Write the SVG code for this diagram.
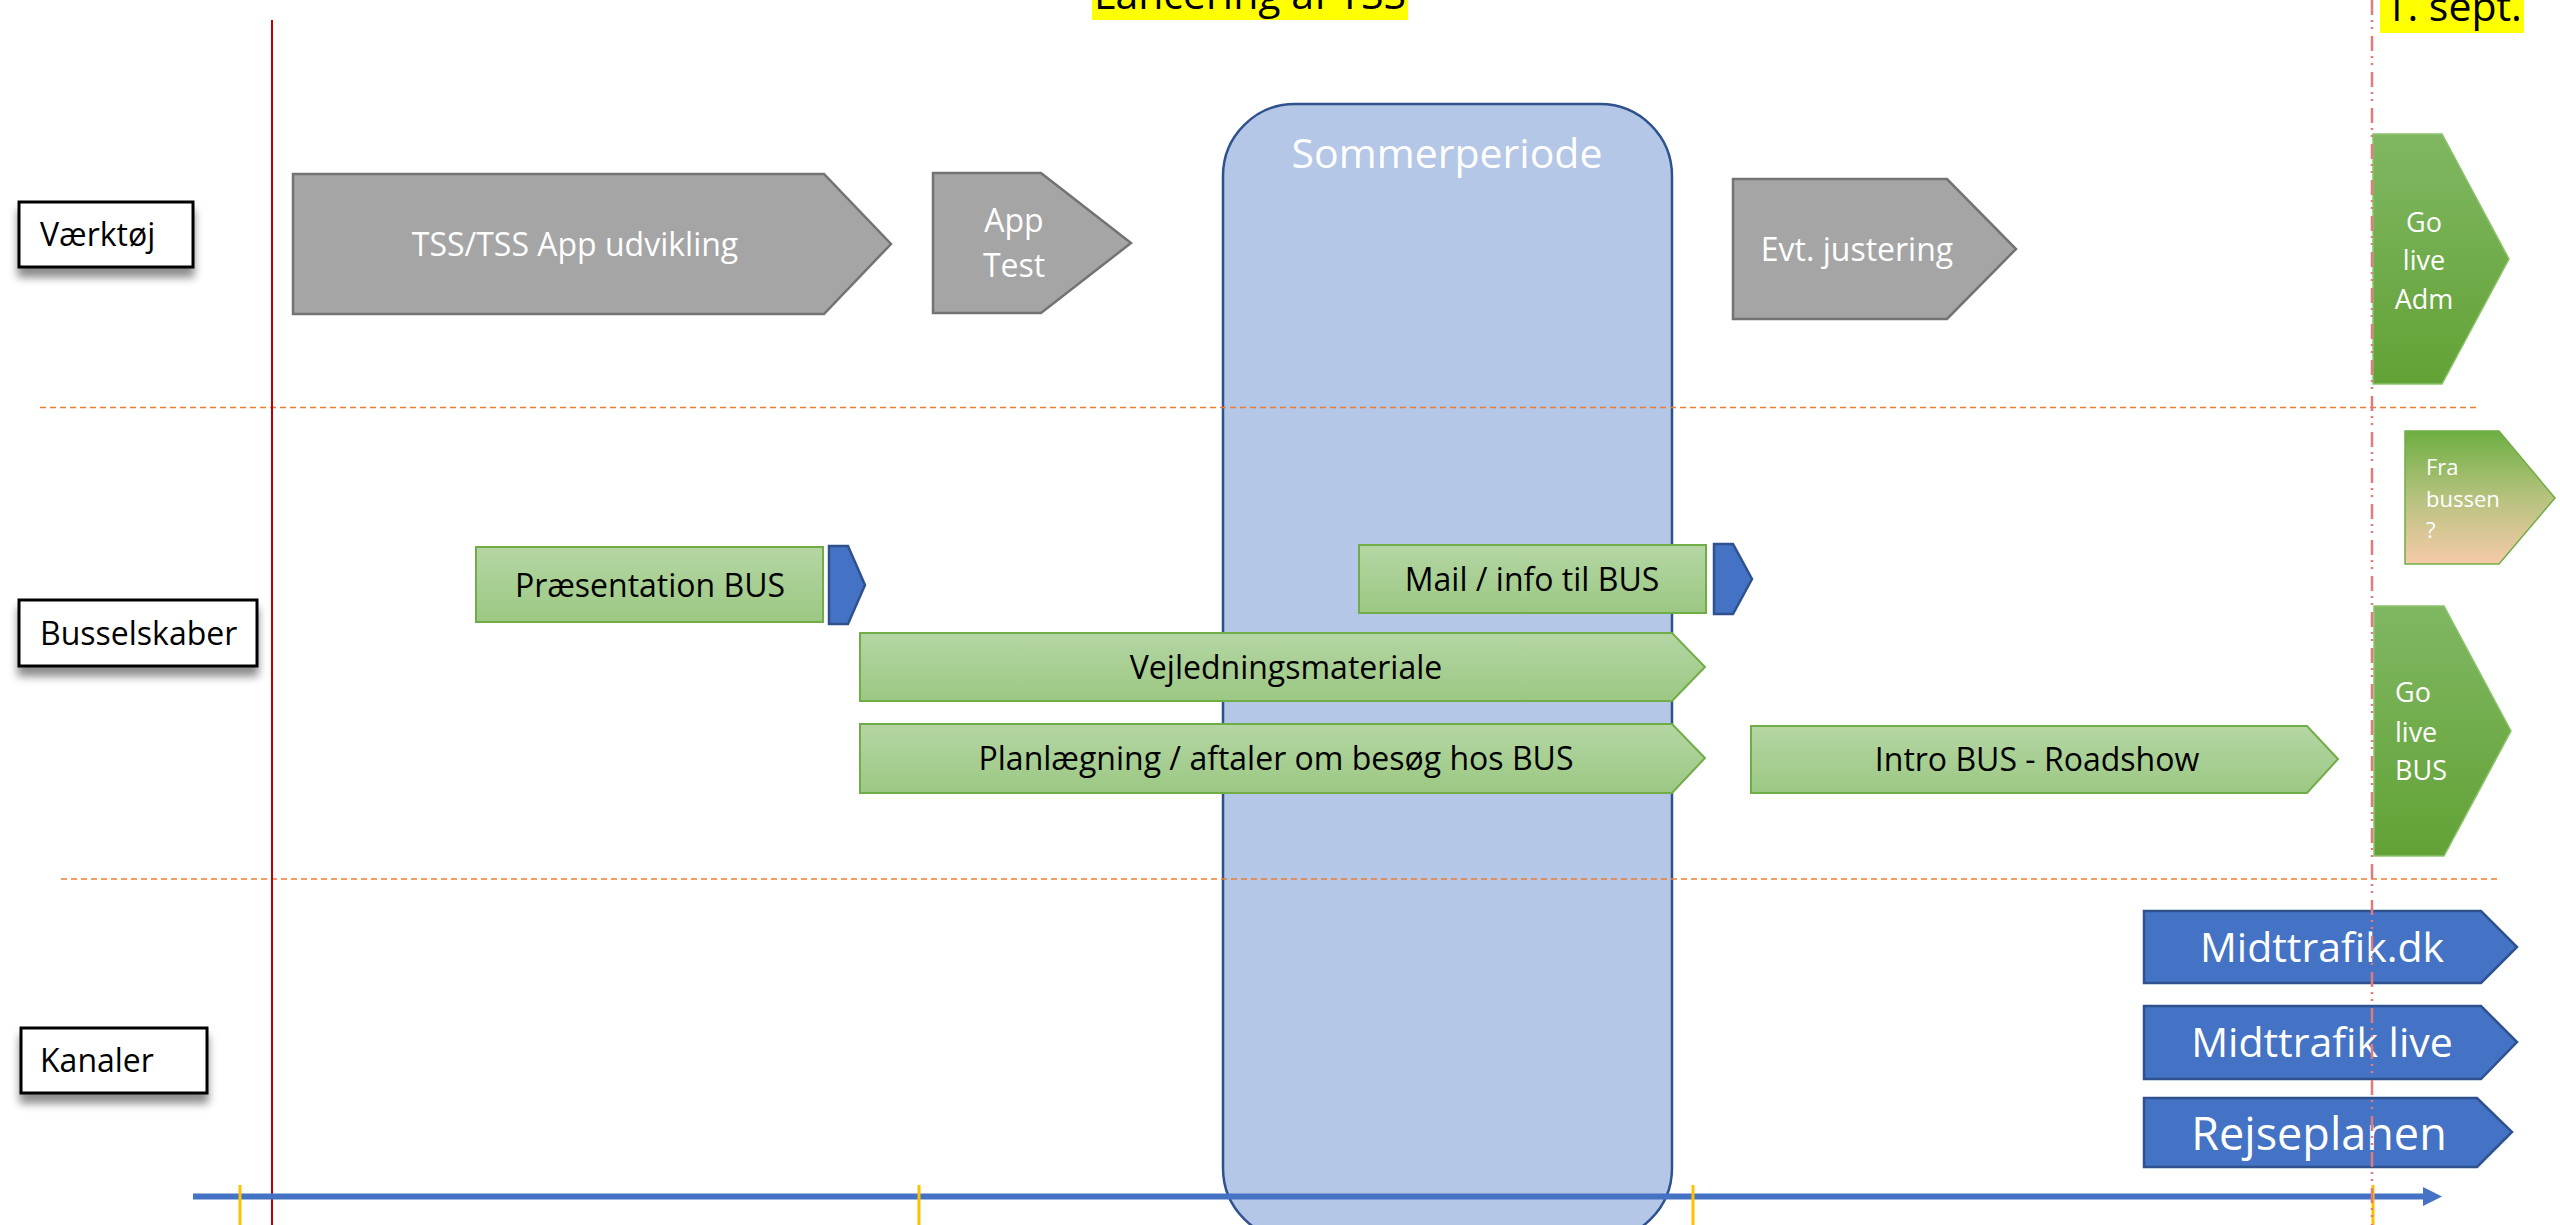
<svg xmlns="http://www.w3.org/2000/svg" width="2560" height="1225" viewBox="0 0 2560 1225">
<defs>
<style>
text{font-family:"Open Sans","Noto Sans","Liberation Sans",sans-serif}
.lbl{fill:#fff;stroke:#000;stroke-width:3}
.lt{font-size:32px;fill:#000}
.gray{fill:#a5a5a5;stroke:#737373;stroke-width:2.5}
.wt{fill:#fff;text-anchor:middle}
.bus{fill:url(#gBus);stroke:#70ad47;stroke-width:2}
.bt{font-size:32px;fill:#000;text-anchor:middle}
.blue{fill:#4472c4;stroke:#2f528f;stroke-width:2.5}
.golive{fill:url(#gLive);stroke:#8cc46c;stroke-width:1.5}
.hl{fill:#ffff00}
.ht{font-size:41px;fill:#000}
.odash{stroke:#ed7d31;stroke-width:1.5;stroke-dasharray:6 4;fill:none}
.tick{stroke:#ffc000;stroke-width:3}
</style>
<linearGradient id="gBus" x1="0" y1="0" x2="0" y2="1">
<stop offset="0" stop-color="#b5d6a4"/>
<stop offset="1" stop-color="#9bc883"/>
</linearGradient>
<linearGradient id="gLive" x1="0" y1="0" x2="0" y2="1">
<stop offset="0" stop-color="#80b762"/>
<stop offset="1" stop-color="#62a236"/>
</linearGradient>
<linearGradient id="gFra" x1="0" y1="0" x2="0" y2="1">
<stop offset="0" stop-color="#6daf42"/>
<stop offset="0.5" stop-color="#b6c27e"/>
<stop offset="1" stop-color="#f6caa9"/>
</linearGradient>
<filter id="shadow" x="-20%" y="-30%" width="140%" height="180%">
<feDropShadow dx="0" dy="9" stdDeviation="4" flood-color="#000" flood-opacity="0.45"/>
</filter>
</defs>

<rect width="2560" height="1225" fill="#fff"/>

<!-- Summer period band -->
<g id="sommerperiode">
<rect x="1223" y="104" width="449" height="1136" rx="72" ry="72" fill="#b4c7e7" stroke="#2f528f" stroke-width="2.5"/>
<text x="1447" y="168" class="wt" font-size="41">Sommerperiode</text>
</g>

<!-- Guides -->
<g id="guides">
<line x1="40" y1="407.5" x2="2478" y2="407.5" class="odash"/>
<line x1="61" y1="879" x2="2500" y2="879" class="odash"/>
<line x1="272" y1="20" x2="272" y2="1225" stroke="#c00000" stroke-width="2"/>
</g>

<!-- Title highlights -->
<g id="title">
<rect x="1092" y="-10" width="316" height="30" class="hl"/>
<text x="1250" y="9" class="ht" text-anchor="middle">Lancering af TSS</text>
</g>
<g id="sept">
<rect x="2380" y="-10" width="144" height="43" class="hl"/>
<text x="2384" y="21" class="ht">1. sept.</text>
</g>

<!-- Row labels -->
<g id="lbl-vaerktoej">
<rect x="19" y="202" width="174" height="65" class="lbl" filter="url(#shadow)"/>
<text x="40" y="246" class="lt">Værktøj</text>
</g>
<g id="lbl-busselskaber">
<rect x="19" y="600" width="238" height="66" class="lbl" filter="url(#shadow)"/>
<text x="40" y="645" class="lt">Busselskaber</text>
</g>
<g id="lbl-kanaler">
<rect x="21" y="1028" width="186" height="65" class="lbl" filter="url(#shadow)"/>
<text x="40" y="1072" class="lt">Kanaler</text>
</g>

<!-- Værktøj row -->
<g id="tss-udvikling">
<polygon points="293,174 824,174 891,244 824,314 293,314" class="gray"/>
<text x="575" y="256" class="wt" font-size="32">TSS/TSS App udvikling</text>
</g>
<g id="app-test">
<polygon points="933,173 1041,173 1131,243 1041,313 933,313" class="gray"/>
<text x="1014" y="232" class="wt" font-size="32">App</text>
<text x="1014" y="277" class="wt" font-size="32">Test</text>
</g>
<g id="evt-justering">
<polygon points="1733,179 1947,179 2016,249 1947,319 1733,319" class="gray"/>
<text x="1857" y="261" class="wt" font-size="32">Evt. justering</text>
</g>
<g id="go-live-adm">
<polygon points="2373,134 2442,134 2509,259 2442,384 2373,384" class="golive"/>
<text x="2424" y="232" class="wt" font-size="27">Go</text>
<text x="2424" y="270" class="wt" font-size="27">live</text>
<text x="2424" y="309" class="wt" font-size="27">Adm</text>
</g>

<!-- Busselskaber row -->
<g id="praesentation-bus">
<rect x="476" y="547" width="347" height="75" class="bus"/>
<text x="650" y="597" class="bt">Præsentation BUS</text>
</g>
<g id="marker-1">
<polygon points="829,546 848,546 865,585 848,624 829,624" class="blue"/>
</g>
<g id="mail-info">
<rect x="1359" y="545" width="347" height="68" class="bus"/>
<text x="1532" y="591" class="bt">Mail / info til BUS</text>
</g>
<g id="marker-2">
<polygon points="1714,544 1733,544 1752,579 1733,614 1714,614" class="blue"/>
</g>
<g id="vejledningsmateriale">
<polygon points="860,633 1672,633 1705,667 1672,701 860,701" class="bus"/>
<text x="1286" y="679" class="bt">Vejledningsmateriale</text>
</g>
<g id="planlaegning">
<polygon points="860,724 1672,724 1705,758 1672,793 860,793" class="bus"/>
<text x="1276" y="770" class="bt">Planlægning / aftaler om besøg hos BUS</text>
</g>
<g id="intro-bus">
<polygon points="1751,726 2307,726 2338,759 2307,793 1751,793" class="bus"/>
<text x="2037" y="771" class="bt">Intro BUS - Roadshow</text>
</g>
<g id="fra-bussen">
<polygon points="2405,431 2499,431 2555,498 2499,564 2405,564" fill="url(#gFra)" stroke="#70ad47" stroke-width="1.5"/>
<text x="2426" y="475" fill="#fff" font-size="22">Fra</text>
<text x="2426" y="507" fill="#fff" font-size="22">bussen</text>
<text x="2426" y="538" fill="#fff" font-size="22">?</text>
</g>
<g id="go-live-bus">
<polygon points="2374,606 2444,606 2511,731 2444,856 2374,856" class="golive"/>
<text x="2395" y="702" fill="#fff" font-size="27">Go</text>
<text x="2395" y="742" fill="#fff" font-size="27">live</text>
<text x="2395" y="780" fill="#fff" font-size="27">BUS</text>
</g>

<!-- Kanaler row -->
<g id="midttrafik-dk">
<polygon points="2144,911 2481,911 2517,947 2481,983 2144,983" class="blue"/>
<text x="2322" y="962" class="wt" font-size="41">Midttrafik.dk</text>
</g>
<g id="midttrafik-live">
<polygon points="2144,1006 2481,1006 2517,1042 2481,1079 2144,1079" class="blue"/>
<text x="2322" y="1057" class="wt" font-size="41">Midttrafik live</text>
</g>
<g id="rejseplanen">
<polygon points="2144,1098 2477,1098 2512,1132 2477,1167 2144,1167" class="blue"/>
<text x="2319" y="1150" class="wt" font-size="45">Rejseplanen</text>
</g>

<!-- Timeline axis -->
<g id="connectors">
<line x1="193" y1="1196.5" x2="2425" y2="1196.5" stroke="#4472c4" stroke-width="6"/>
<polygon points="2423,1187 2442,1196.5 2423,1206" fill="#4472c4"/>
<line x1="240" y1="1185" x2="240" y2="1225" class="tick"/>
<line x1="919" y1="1185" x2="919" y2="1225" class="tick"/>
<line x1="1693" y1="1185" x2="1693" y2="1225" class="tick"/>
<line x1="2373" y1="1185" x2="2373" y2="1225" class="tick"/>
</g>

<!-- 1. sept. marker line -->
<g id="sept-line">
<line x1="2372" y1="0" x2="2372" y2="1225" stroke="#e07b7b" stroke-width="2.5" stroke-dasharray="15 5 2 5 2 7"/>
</g>
</svg>
